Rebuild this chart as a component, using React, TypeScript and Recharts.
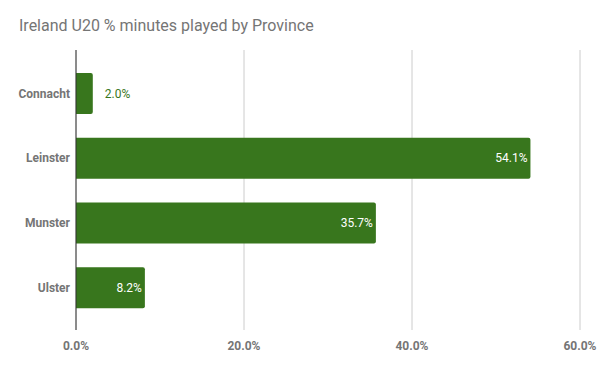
import { BarChart, Bar, XAxis, YAxis, CartesianGrid, LabelList } from "recharts";

const provinces = ["Connacht", "Leinster", "Munster", "Ulster"];
const minutesPct = [2.0, 54.1, 35.7, 8.2];
const xTicks = [0, 20, 40, 60];

const data = provinces.map((name, i) => ({ name, pct: minutesPct[i] }));

const GREEN = "#38761d";
const fmt = (v: number) => `${Number(v).toFixed(1)}%`;

function BarLabel(props: any) {
  const { x, y, width, height, value } = props;
  const inside = width > 40;
  return (
    <text
      x={inside ? x + width - 3 : x + width + 12}
      y={y + height / 2}
      dy="0.35em"
      textAnchor={inside ? "end" : "start"}
      fill={inside ? "#ffffff" : GREEN}
      fontSize={12}
      fontFamily="Roboto"
    >
      {fmt(value)}
    </text>
  );
}

export default function App() {
  return (
    <div style={{ position: "absolute", left: 0, top: 0, width: 600, height: 371, background: "#fff" }}>
      <div
        style={{
          position: "absolute",
          left: 19,
          top: 16,
          fontFamily: "Roboto",
          fontSize: 16,
          color: "#757575",
          whiteSpace: "nowrap",
        }}
      >
        Ireland U20 % minutes played by Province
      </div>
      <BarChart
        width={600}
        height={371}
        data={data}
        layout="vertical"
        margin={{ top: 50, right: 20, bottom: 11, left: 0 }}
        barCategoryGap={12}
      >
        <CartesianGrid horizontal={false} vertical stroke="#cccccc" />
        <XAxis
          type="number"
          dataKey="pct"
          domain={[0, 60]}
          ticks={xTicks}
          tickFormatter={fmt}
          axisLine={false}
          tickLine={false}
          height={30}
          tickMargin={5}
          tick={{ fill: "#757575", fontSize: 12, fontWeight: "bold", fontFamily: "Roboto" }}
        />
        <YAxis
          type="category"
          dataKey="name"
          width={76}
          padding={{ top: 11, bottom: 10 }}
          axisLine={{ stroke: "#333333" }}
          tickLine={false}
          tickMargin={0}
          tick={{ fill: "#757575", fontSize: 12, fontWeight: "bold", fontFamily: "Roboto" }}
        />
        <Bar dataKey="pct" fill={GREEN} radius={[0, 2, 2, 0]} isAnimationActive={false}>
          <LabelList dataKey="pct" content={BarLabel} />
        </Bar>
      </BarChart>
    </div>
  );
}
